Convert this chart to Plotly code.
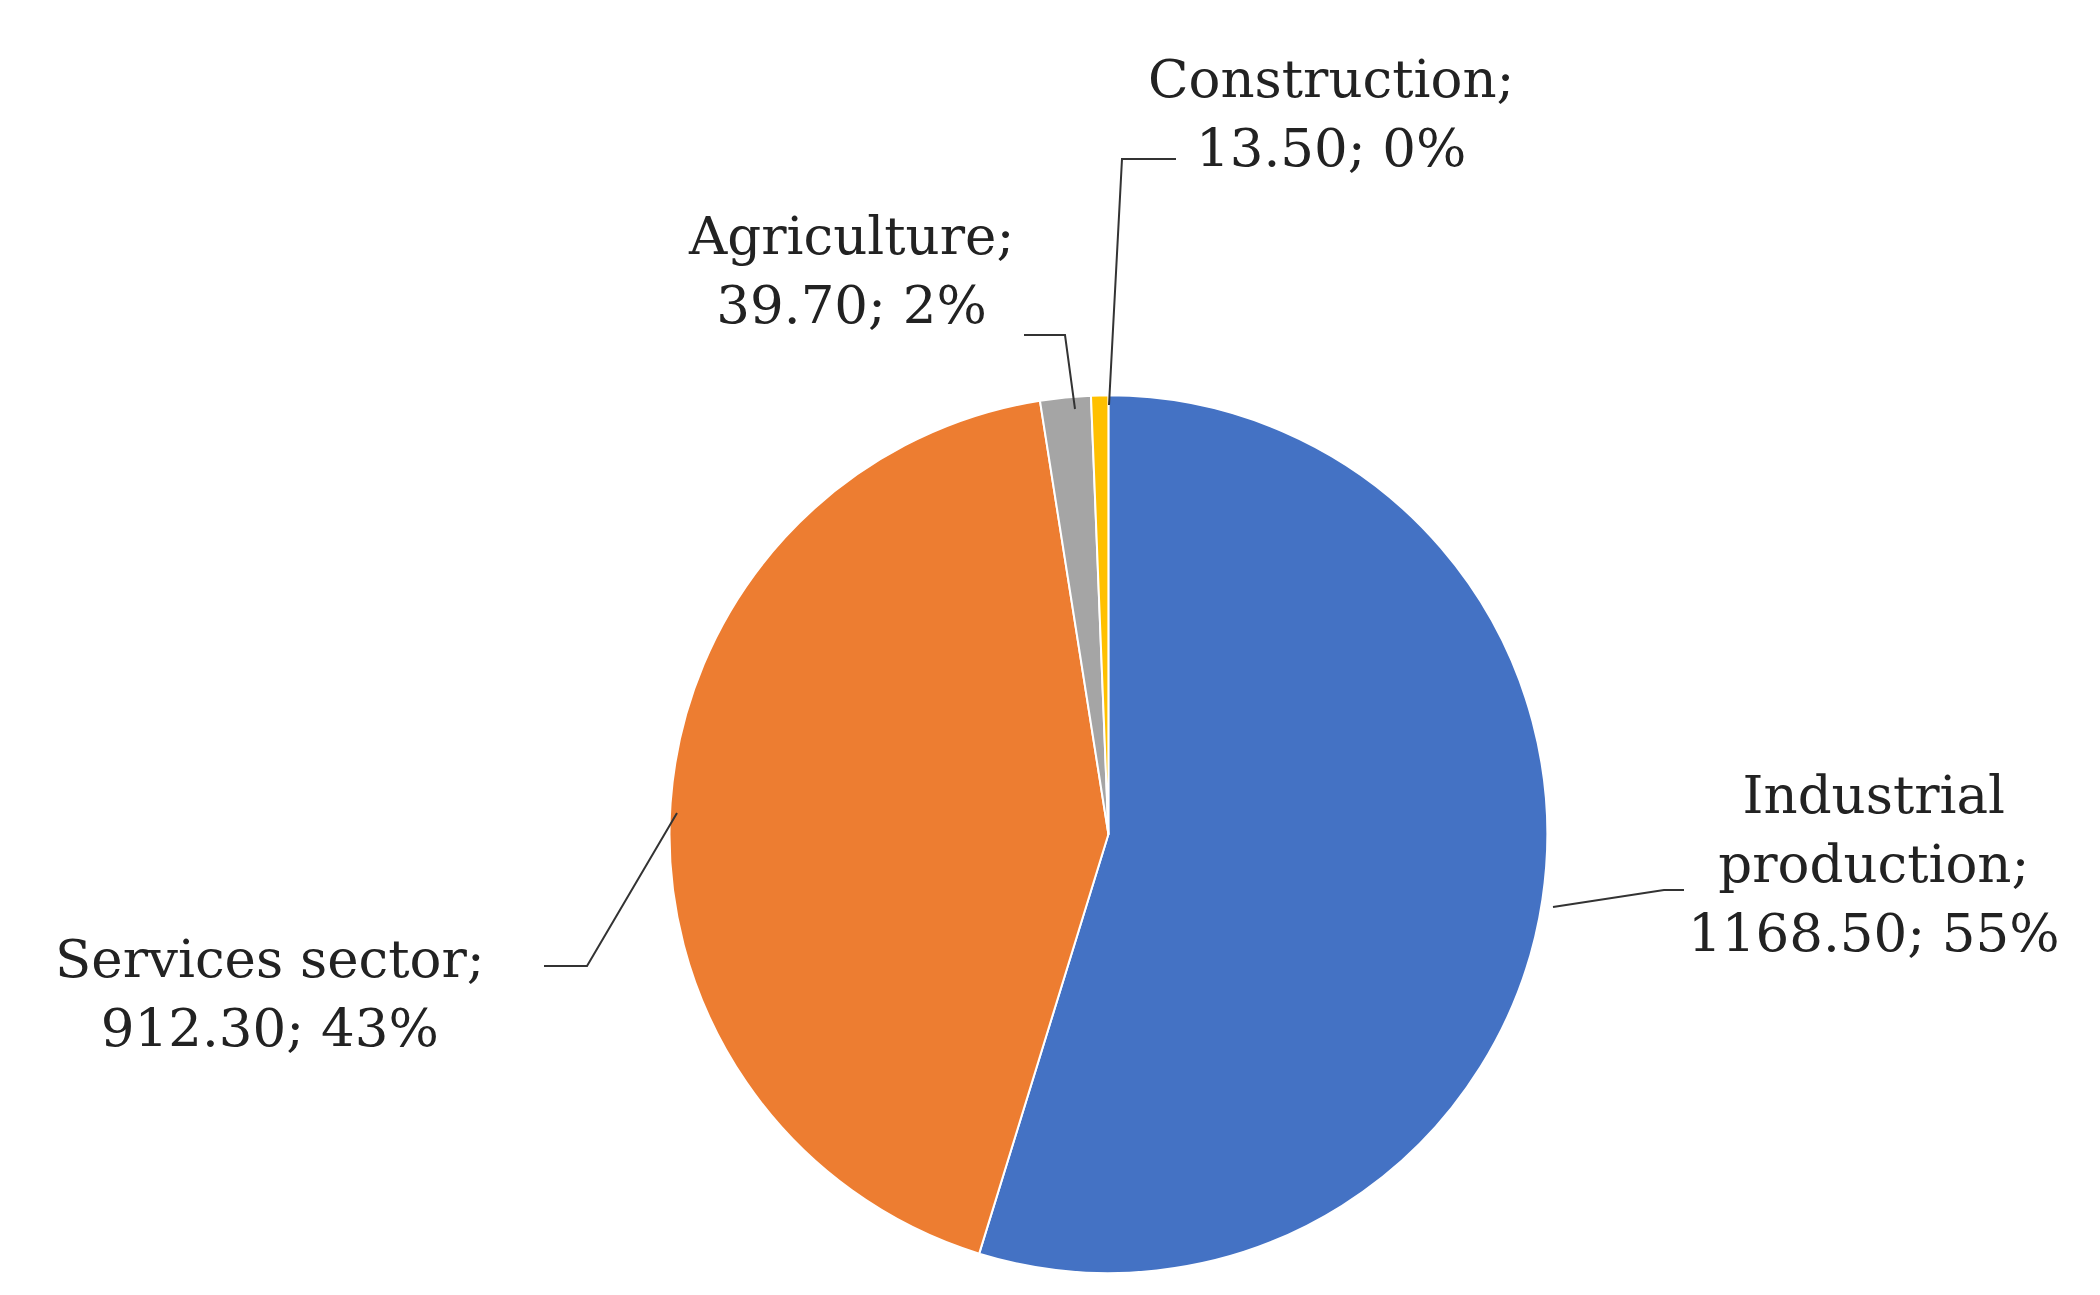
import plotly.graph_objects as go

sectors = ["Industrial production", "Services sector", "Agriculture", "Construction"]
values = [1168.50, 912.30, 39.70, 13.50]
shares = ["55%", "43%", "2%", "0%"]
colors = ["#4472C4", "#ED7D31", "#A5A5A5", "#FFC000"]

W, H = 2100, 1295

fig = go.Figure(go.Pie(
    labels=sectors, values=values, sort=False, direction="clockwise", rotation=0,
    marker=dict(colors=colors, line=dict(color="white", width=2)),
    textinfo="none", hoverinfo="label+value+percent",
    domain=dict(x=[0.315, 0.733], y=[0.023, 0.701]),
    showlegend=False,
))

# label text, placed in pixels (x centre, y middle)
label_lines = {
    "Industrial production": ["Industrial", "production;", "{v}; {p}"],
    "Services sector": ["Services sector;", "{v}; {p}"],
    "Agriculture": ["Agriculture;", "{v}; {p}"],
    "Construction": ["Construction;", "{v}; {p}"],
}
label_pos = {
    "Industrial production": (1866, 855),
    "Services sector": (262, 985),
    "Agriculture": (843, 262),
    "Construction": (1323, 105),
}
leaders = {
    "Industrial production": [(1545, 899), (1656, 882), (1676, 882)],
    "Services sector": [(669, 805), (579, 958), (536, 958)],
    "Agriculture": [(1067, 401), (1057, 327), (1016, 327)],
    "Construction": [(1101, 397), (1114, 151), (1168, 151)],
}

annotations = []
shapes = []
for name, val, pct in zip(sectors, values, shares):
    txt = "<br>".join(l.format(v=f"{val:.2f}", p=pct) for l in label_lines[name])
    px_, py_ = label_pos[name]
    annotations.append(dict(
        x=px_ / W, y=1 - py_ / H, xref="paper", yref="paper", text=txt,
        showarrow=False, align="center", xanchor="center", yanchor="middle",
        font=dict(family="DejaVu Serif", size=53, color="#222222"),
    ))
    pts = leaders[name]
    path = "M " + " L ".join(f"{x / W},{1 - y / H}" for x, y in pts)
    shapes.append(dict(type="path", xref="paper", yref="paper", path=path,
                       line=dict(color="#333333", width=2)))

fig.update_layout(
    width=W, height=H, margin=dict(l=0, r=0, t=0, b=0),
    paper_bgcolor="white", plot_bgcolor="white",
    annotations=annotations, shapes=shapes,
)

fig.write_html("out.html")
